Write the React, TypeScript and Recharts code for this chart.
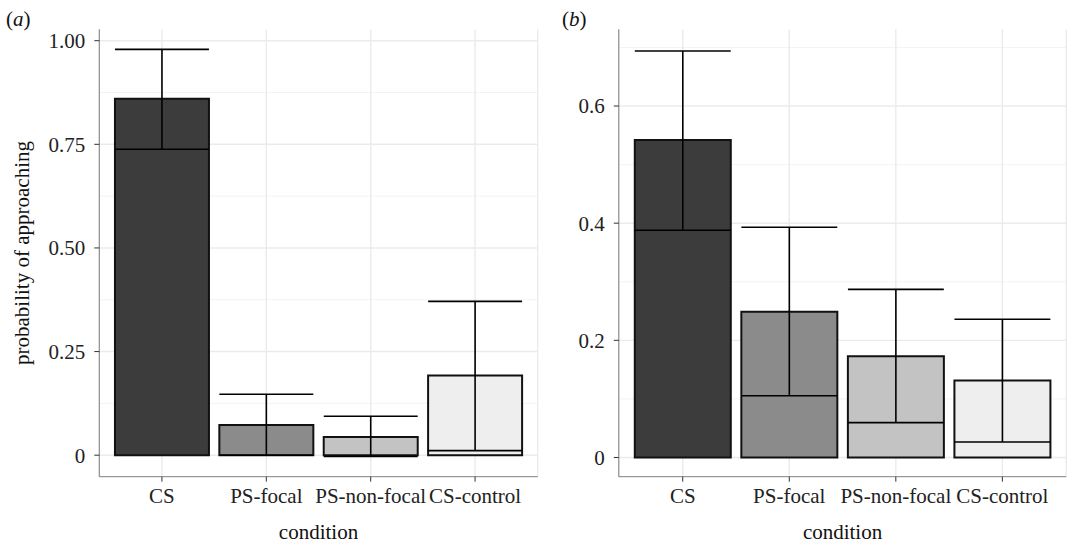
import React from 'react';
import { BarChart, Bar, Cell, XAxis, YAxis, CartesianGrid, ErrorBar, Label } from 'recharts';

const conditions = ['CS', 'PS-focal', 'PS-non-focal', 'CS-control'];
const fills = ['#3c3c3c', '#8b8b8b', '#c3c3c3', '#eeeeee'];

// panel (a)
const meanA = [0.86, 0.073, 0.044, 0.192];
const lowA = [0.738, 0, -0.003, 0.011];
const highA = [0.979, 0.147, 0.094, 0.371];
const ticksA = [0, 0.25, 0.5, 0.75, 1];
const minorA = [0.125, 0.375, 0.625, 0.875];

// panel (b)
const meanB = [0.542, 0.249, 0.173, 0.1315];
const lowB = [0.388, 0.1055, 0.0595, 0.0265];
const highB = [0.694, 0.393, 0.287, 0.236];
const ticksB = [0, 0.2, 0.4, 0.6];
const minorB = [0.1, 0.3, 0.5, 0.7];

const FONT = '"Liberation Serif", "Times New Roman", serif';
const BORDER = '#7f7f7f';

const buildRows = (mean: number[], low: number[], high: number[]) =>
    conditions.map((c, i) => ({
        cond: c,
        mean: mean[i],
        err: [mean[i] - low[i], high[i] - mean[i]],
    }));

interface PanelProps {
    left: number;
    width: number;
    yAxisWidth: number;
    marginRight: number;
    domain: [number, number];
    ticks: number[];
    minor: number[];
    digits: number;
    rows: { cond: string; mean: number; err: number[] }[];
    yTitle?: string;
}

const Panel: React.FC<PanelProps> = ({ left, width, yAxisWidth, marginRight, domain, ticks, minor, digits, rows, yTitle }) => {
    const height = 543;
    const top = 29.3;
    const xAxisHeight = height - 476.7;
    const plotW = width - yAxisWidth - marginRight;
    const pad = plotW / 42; // ggplot's 0.6 band expansion
    const band = (plotW - 2 * pad) / 4;

    return (
        <div style={{ position: 'absolute', left, top: 0 }}>
            <BarChart
                width={width}
                height={height}
                data={rows}
                margin={{ top, right: marginRight, bottom: 0, left: 0 }}
                barCategoryGap="5%"
                style={{ fontFamily: FONT }}
            >
                <CartesianGrid vertical={false} horizontalValues={minor} stroke="#f3f3f3" strokeWidth={1} />
                <CartesianGrid horizontalValues={ticks} stroke="#ebebeb" strokeWidth={1.4} />
                <XAxis
                    dataKey="cond"
                    padding={{ left: pad, right: pad }}
                    height={xAxisHeight}
                    tickSize={5}
                    tickMargin={6}
                    tickLine={{ stroke: '#333' }}
                    axisLine={{ stroke: BORDER }}
                    tick={{ fill: '#222', fontSize: 21, fontFamily: FONT }}
                    interval={0}
                >
                    <Label
                        content={(p: any) => {
                            const vb = p.viewBox || {};
                            return (
                                <text x={vb.x + vb.width / 2} y={vb.y + 62.3} textAnchor="middle" fontSize={21} fontFamily={FONT} fill="#111">
                                    condition
                                </text>
                            );
                        }}
                    />
                </XAxis>
                <XAxis xAxisId="top" dataKey="cond" orientation="top" height={0} padding={{ left: pad, right: pad }} tick={false} tickLine={false} axisLine={{ stroke: BORDER }} />
                <YAxis
                    type="number"
                    domain={domain}
                    allowDataOverflow
                    ticks={ticks}
                    width={yAxisWidth}
                    tickSize={5}
                    tickMargin={9}
                    tickLine={{ stroke: '#333' }}
                    axisLine={{ stroke: BORDER }}
                    tick={{ fill: '#222', fontSize: 21, fontFamily: FONT }}
                    tickFormatter={(v: number) => (v === 0 ? '0' : v.toFixed(digits))}
                >
                    {yTitle && (
                        <Label
                            content={(p: any) => {
                                const vb = p.viewBox || {};
                                const cy = vb.y + vb.height / 2;
                                return (
                                    <text transform={`translate(29,${cy}) rotate(-90)`} textAnchor="middle" fontSize={21} fontFamily={FONT} fill="#111">
                                        {yTitle}
                                    </text>
                                );
                            }}
                        />
                    )}
                </YAxis>
                <YAxis yAxisId="right" orientation="right" type="number" domain={domain} width={0} tick={false} tickLine={false} axisLine={{ stroke: BORDER }} />
                <Bar dataKey="mean" isAnimationActive={false} stroke="#111" strokeWidth={2}>
                    {rows.map((r, i) => (
                        <Cell key={r.cond} fill={fills[i]} />
                    ))}
                    <ErrorBar dataKey="err" direction="y" width={(band * 0.9) / 2} stroke="#000" strokeWidth={1.6} />
                </Bar>
            </BarChart>
        </div>
    );
};

const tagStyle: React.CSSProperties = {
    position: 'absolute',
    top: 9.4,
    fontFamily: FONT,
    fontSize: 21,
    lineHeight: '21px',
    color: '#111',
};

export default function App() {
    return (
        <div style={{ position: 'absolute', left: 0, top: 0, width: 1067, height: 543, background: '#fff', overflow: 'hidden' }}>
            <div style={{ ...tagStyle, left: 6 }}>(<i>a</i>)</div>
            <div style={{ ...tagStyle, left: 562 }}>(<i>b</i>)</div>
            <Panel
                left={0}
                width={545}
                yAxisWidth={99.3}
                marginRight={545 - 537.7}
                domain={[-0.0519, 1.0275]}
                ticks={ticksA}
                minor={minorA}
                digits={2}
                rows={buildRows(meanA, lowA, highA)}
                yTitle="probability of approaching"
            />
            <Panel
                left={540}
                width={527}
                yAxisWidth={618.8 - 540}
                marginRight={0.7}
                domain={[-0.0328, 0.731]}
                ticks={ticksB}
                minor={minorB}
                digits={1}
                rows={buildRows(meanB, lowB, highB)}
            />
        </div>
    );
}
